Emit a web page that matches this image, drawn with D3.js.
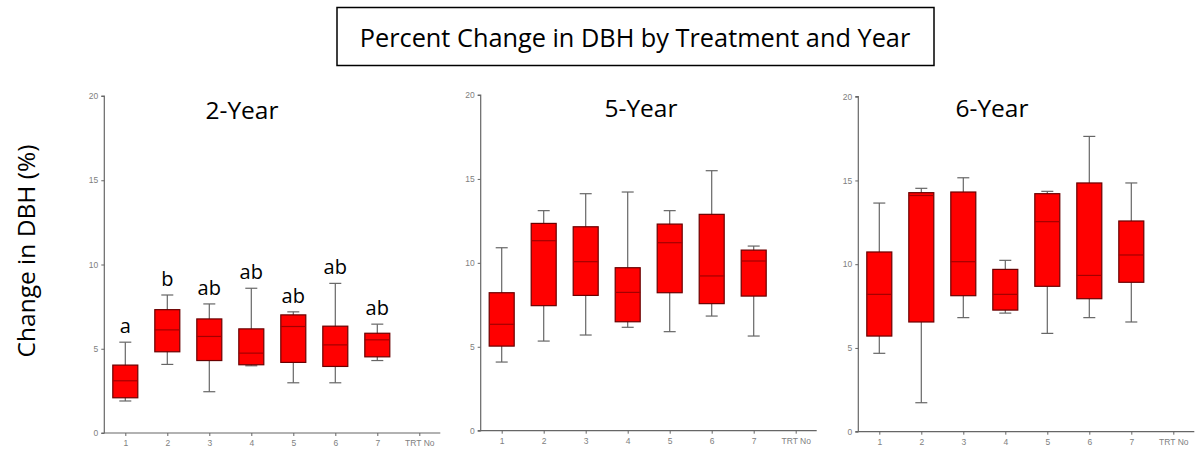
<!DOCTYPE html>
<html><head><meta charset="utf-8">
<script src="https://cdn.jsdelivr.net/npm/d3@7"></script>
<style>body{margin:0;background:#fff}svg{display:block}</style>
</head><body>
<svg id="c" width="1198" height="453"></svg>
<script>
const treatments = [1,2,3,4,5,6,7];
const xTickLabels = ["1","2","3","4","5","6","7","TRT No"];
const yTicks = [0,5,10,15,20];
const panelTitles = ["2-Year","5-Year","6-Year"];
const mainTitle = "Percent Change in DBH by Treatment and Year";
const yLabel = "Change in DBH (%)";

// 2-Year
const yr2Low  = [1.90,4.07,2.45,3.99,2.98,2.98,4.30];
const yr2Q1   = [2.09,4.82,4.30,4.05,4.19,3.95,4.52];
const yr2Med  = [3.10,6.12,5.73,4.74,6.32,5.23,5.53];
const yr2Q3   = [4.03,7.32,6.77,6.18,7.01,6.34,5.92];
const yr2High = [5.39,8.19,7.66,8.59,7.19,8.88,6.46];
const yr2Letters = ["a","b","ab","ab","ab","ab","ab"];
// 5-Year
const yr5Low  = [4.09,5.34,5.70,6.16,5.90,6.83,5.64];
const yr5Q1   = [5.04,7.45,8.06,6.49,8.22,7.57,8.02];
const yr5Med  = [6.34,11.32,10.07,8.24,11.20,9.22,10.11];
const yr5Q3   = [8.22,12.35,12.15,9.71,12.31,12.89,10.76];
const yr5High = [10.90,13.11,14.12,14.22,13.11,15.49,11.00];
// 6-Year
const yr6Low  = [4.68,1.73,6.81,7.08,5.87,6.81,6.55];
const yr6Q1   = [5.71,6.55,8.12,7.26,8.68,7.94,8.92];
const yr6Med  = [8.20,14.10,10.15,8.20,12.54,9.33,10.55];
const yr6Q3   = [10.73,14.27,14.31,9.69,14.21,14.85,12.58];
const yr6High = [13.65,14.53,15.16,10.23,14.35,17.63,14.85];

const svg = d3.select("#c");
const FONT = "'Open Sans', 'Noto Sans', sans-serif";

// main title box
svg.append("rect").attr("x",337).attr("y",7.5).attr("width",597).attr("height",58)
  .attr("fill","#fff").attr("stroke","#000").attr("stroke-width",1.5);
svg.append("text").attr("x",635).attr("y",46.5).attr("text-anchor","middle")
  .attr("font-family",FONT).attr("font-size",25.3).attr("fill","#000").text(mainTitle);

// y label
svg.append("text").attr("transform","translate(35,251) rotate(-90)")
  .attr("text-anchor","middle").attr("font-family",FONT).attr("font-size",24.5)
  .attr("fill","#000").text(yLabel);

const panels = [
  {title:panelTitles[0], x0:104.3, y0:433, y1:96, tx:242, ty:118.5,
   low:yr2Low,q1:yr2Q1,med:yr2Med,q3:yr2Q3,high:yr2High,letters:yr2Letters},
  {title:panelTitles[1], x0:480.7, y0:430.7, y1:95, tx:641, ty:117,
   low:yr5Low,q1:yr5Q1,med:yr5Med,q3:yr5Q3,high:yr5High,letters:null},
  {title:panelTitles[2], x0:858.3, y0:431.7, y1:96.7, tx:992, ty:117,
   low:yr6Low,q1:yr6Q1,med:yr6Med,q3:yr6Q3,high:yr6High,letters:null}
];

panels.forEach(p => {
  const step = 42;
  const x = d3.scaleLinear().domain([0.5,8.5]).range([p.x0, p.x0 + 8*step]);
  const y = d3.scaleLinear().domain([0,20]).range([p.y0, p.y1]);
  const g = svg.append("g");

  // title
  g.append("text").attr("x",p.tx).attr("y",p.ty).attr("text-anchor","middle")
    .attr("font-family",FONT).attr("font-size",24.5).attr("fill","#000").text(p.title);

  // axes
  const ya = d3.axisLeft(y).tickValues(yTicks).tickSize(3).tickPadding(3);
  const yg = g.append("g").attr("transform",`translate(${p.x0},0)`).call(ya);
  const xa = d3.axisBottom(x).tickValues([1,2,3,4,5,6,7,8])
    .tickFormat((d,i)=>xTickLabels[i]).tickSize(3).tickPadding(4);
  const xg = g.append("g").attr("transform",`translate(0,${p.y0})`).call(xa);
  [yg,xg].forEach(a=>{
    a.select(".domain").attr("stroke","#666").attr("stroke-width",1.2);
    a.selectAll(".tick line").attr("stroke","#666");
    a.selectAll(".tick text").attr("fill","#808080").attr("font-family","'Liberation Sans', Arial, sans-serif").attr("font-size",8.5);
  });
  xg.select(".domain").attr("d",`M${p.x0},0H${p.x0+8*step}`);
  yg.select(".domain").attr("d",`M-3,${p.y1}H0V${p.y0}H-3`);

  const bw = 25, cw = 12;
  const bx = g.selectAll("g.box").data(treatments).join("g").attr("class","box");
  // whiskers
  bx.append("line").attr("x1",d=>x(d)).attr("x2",d=>x(d))
    .attr("y1",(d,i)=>y(p.low[i])).attr("y2",(d,i)=>y(p.high[i]))
    .attr("stroke","#666").attr("stroke-width",1.2);
  bx.append("line").attr("x1",d=>x(d)-cw/2).attr("x2",d=>x(d)+cw/2)
    .attr("y1",(d,i)=>y(p.low[i])).attr("y2",(d,i)=>y(p.low[i]))
    .attr("stroke","#666").attr("stroke-width",1.2);
  bx.append("line").attr("x1",d=>x(d)-cw/2).attr("x2",d=>x(d)+cw/2)
    .attr("y1",(d,i)=>y(p.high[i])).attr("y2",(d,i)=>y(p.high[i]))
    .attr("stroke","#666").attr("stroke-width",1.2);
  // box
  bx.append("rect").attr("x",d=>x(d)-bw/2).attr("width",bw)
    .attr("y",(d,i)=>y(p.q3[i])).attr("height",(d,i)=>y(p.q1[i])-y(p.q3[i]))
    .attr("fill","#ff0000").attr("stroke","#6a0000").attr("stroke-width",1.2);
  // median
  bx.append("line").attr("x1",d=>x(d)-bw/2).attr("x2",d=>x(d)+bw/2)
    .attr("y1",(d,i)=>y(p.med[i])).attr("y2",(d,i)=>y(p.med[i]))
    .attr("stroke","#a30000").attr("stroke-width",1.2);

  if (p.letters) {
    bx.append("text").attr("x",d=>x(d)).attr("y",(d,i)=>y(p.high[i])-9)
      .attr("text-anchor","middle").attr("font-family",FONT).attr("font-size",20)
      .attr("fill","#000").text((d,i)=>p.letters[i]);
  }
});
</script>
</body></html>
